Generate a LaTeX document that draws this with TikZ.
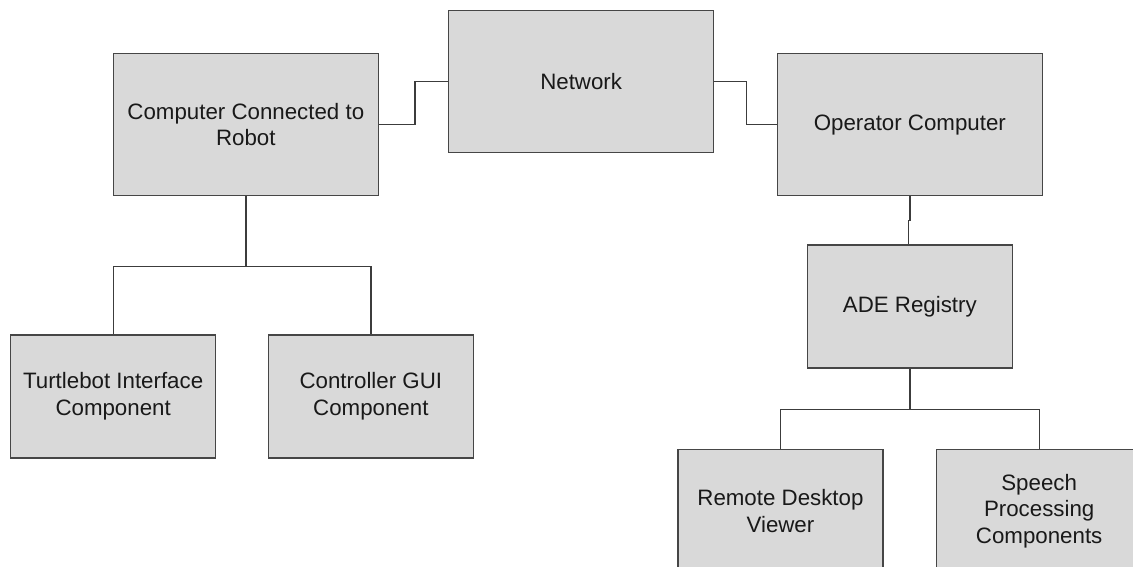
\documentclass[tikz,border=0pt]{standalone}
\usepackage{fontspec}
\setmainfont{Liberation Sans}
\definecolor{boxfill}{RGB}{217,217,217}
\definecolor{boxline}{RGB}{70,70,70}
\definecolor{wire}{RGB}{60,60,60}
\definecolor{ink}{RGB}{25,25,25}
\tikzset{
  unit/.style={draw=boxline, fill=boxfill, line width=1.3pt, inner sep=0pt,
    anchor=north west, align=center, text=ink,
    font=\fontsize{22.3}{26.6}\selectfont},
  bigunit/.style={unit, minimum width=265pt, minimum height=142pt},
  smallunit/.style={unit, minimum width=205pt, minimum height=123pt},
  link/.style={draw=wire, line width=1.3pt}
}
\begin{document}
\begin{tikzpicture}[x=1pt, y=-1pt]
  \useasboundingbox (0,0) rectangle (1133,566);
  \clip (0,0) rectangle (1133,566);

  % top row
  \node[bigunit] (comp) at (112.7,53) {Computer Connected to\\Robot};
  \node[bigunit] (net)  at (448,10)   {Network};
  \node[bigunit] (op)   at (776.7,53) {Operator Computer};

  % robot side
  \node[smallunit] (turt) at (10,334.3)    {Turtlebot Interface\\Component};
  \node[smallunit] (ctrl) at (267.7,334.3) {Controller GUI\\Component};

  % operator side
  \node[smallunit] (ade)    at (806.7,244.3) {ADE Registry};
  \node[smallunit] (remote) at (677.3,449)   {Remote Desktop\\Viewer};
  \node[smallunit] (speech) at (936,449)     {Speech\\Processing\\Components};

  % network links
  \draw[link] (comp.east) -- ++(36,0) |- (net.west);
  \draw[link] (net.east) -- ++(32,0) |- (op.west);

  % robot computer tree
  \draw[link] (comp.south) -- ++(0,70) coordinate (lbus);
  \draw[link] (turt.north) |- (lbus) -| (ctrl.north);

  % operator tree
  \draw[link] (op.south) -- ++(0,24) -| ([xshift=-1.5pt]ade.north);
  \draw[link] (ade.south) -- ++(0,40.6) coordinate (rbus);
  \draw[link] (remote.north) |- (rbus) -| (speech.north);
\end{tikzpicture}
\end{document}
